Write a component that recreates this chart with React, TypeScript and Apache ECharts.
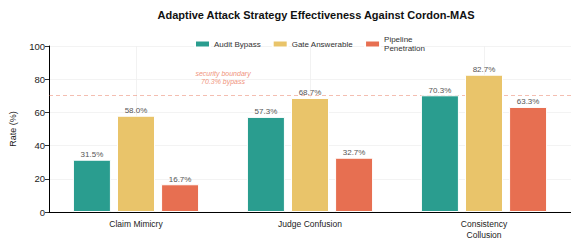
import React, { useEffect, useRef } from "react";
import * as echarts from "echarts";

const categories = ["Claim Mimicry", "Judge Confusion", "Consistency\nCollusion"];
const auditBypass = [31.5, 57.3, 70.3];
const gateAnswerable = [58.0, 68.7, 82.7];
const pipelinePenetration = [16.7, 32.7, 63.3];
const seriesNames = ["Audit Bypass", "Gate Answerable", "Pipeline Penetration"];
const colors = ["#2a9d8f", "#e9c46a", "#e76f51"];
const boundary = 70.3;
const yTicks = { min: 0, max: 100, interval: 20 };

const FONT = "Liberation Sans, Arial, sans-serif";

export default function App() {
  const ref = useRef<HTMLDivElement>(null);
  useEffect(() => {
    if (!ref.current) return;
    const chart = echarts.init(ref.current, null, { renderer: "svg" });
    const data = [auditBypass, gateAnswerable, pipelinePenetration];
    const series: any[] = data.map((vals, i) => ({
      name: seriesNames[i],
      type: "bar",
      data: vals,
      barWidth: 38,
      barGap: "16%",
      itemStyle: { color: colors[i], borderColor: "#ffffff", borderWidth: 1 },
      label: {
        show: true,
        position: "top",
        distance: 1,
        formatter: (p: any) => p.value.toFixed(1) + "%",
        fontSize: 8,
        color: "#555555",
        fontFamily: FONT,
      },
      z: 5,
    }));
    series.push({
      name: "grid-x",
      type: "line",
      data: [],
      z: 1,
      silent: true,
      markLine: {
        silent: true,
        symbol: "none",
        label: { show: false },
        lineStyle: { color: "#efefef", type: "solid", width: 0.8 },
        emphasis: { disabled: true },
        data: categories.map((c) => ({ xAxis: c })),
      },
    });
    series.push({
      name: "boundary",
      type: "line",
      data: [],
      z: 2,
      silent: true,
      markLine: {
        silent: true,
        symbol: "none",
        label: { show: false },
        emphasis: { disabled: true },
        lineStyle: { color: "#e76f51", type: [4, 3], width: 1, opacity: 0.45 },
        data: [{ yAxis: boundary }],
      },
    });
    const option: any = {
      animation: false,
      title: {
        text: "Adaptive Attack Strategy Effectiveness Against Cordon-MAS",
        left: 311,
        textAlign: "center",
        top: 4,
        textStyle: { fontSize: 11, fontWeight: "bold", color: "#111", fontFamily: FONT },
      },
      legend: {
        left: 189,
        top: 30,
        itemWidth: 15,
        itemHeight: 7,
        itemGap: 11,
        icon: "rect",
        formatter: (n: string) => (n === "Pipeline Penetration" ? "Pipeline\nPenetration" : n),
        textStyle: { fontSize: 8, color: "#333", fontFamily: FONT, lineHeight: 9, padding: [0, 0, 0, -1] },
        data: seriesNames,
      },
      grid: { left: 47, right: -4, top: 46, bottom: 29 },
      xAxis: {
        type: "category",
        data: categories,
        axisLine: { lineStyle: { color: "#000", width: 1 } },
        axisTick: { alignWithLabel: true, length: 3, lineStyle: { color: "#333" } },
        axisLabel: { fontSize: 8.5, color: "#222", margin: 6, fontFamily: FONT, lineHeight: 11 },
        splitLine: { show: false },
        z: 1,
      },
      yAxis: {
        type: "value",
        min: yTicks.min,
        max: yTicks.max,
        interval: yTicks.interval,
        name: "Rate (%)",
        nameLocation: "middle",
        nameGap: 32,
        nameTextStyle: { fontSize: 9, color: "#222", fontFamily: FONT },
        axisLine: { show: true, lineStyle: { color: "#000", width: 1 } },
        axisTick: { show: true, length: 4, lineStyle: { color: "#333" } },
        axisLabel: { fontSize: 9.5, color: "#222", margin: 4, fontFamily: FONT },
        splitLine: { show: true, lineStyle: { color: "#f0f0f0", width: 0.8 } },
      },
      series,
    };
    chart.setOption(option);
    const p0 = chart.convertToPixel({ seriesIndex: 0 }, [0, boundary]) as number[];
    const p1 = chart.convertToPixel({ seriesIndex: 0 }, [1, boundary]) as number[];
    const cx = (p0[0] + p1[0]) / 2;
    chart.setOption({
      graphic: [
        {
          type: "text",
          x: cx,
          y: p0[1] - 10,
          style: {
            text: "security boundary\n70.3% bypass",
            fill: "#f0937c",
            font: "italic 7px " + FONT,
            textAlign: "center",
            textVerticalAlign: "bottom",
            lineHeight: 8,
          },
        },
      ],
    });
    return () => chart.dispose();
  }, []);
  return <div ref={ref} style={{ width: 571, height: 241, position: "absolute", left: 0, top: 0 }} />;
}
